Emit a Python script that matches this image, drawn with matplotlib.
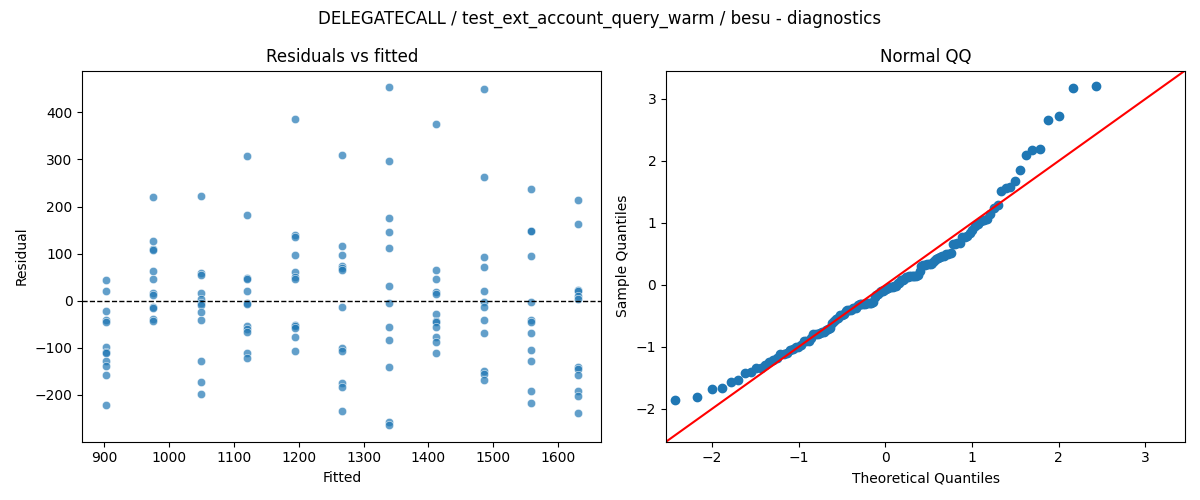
import statistics

import matplotlib
matplotlib.use('Agg')
import matplotlib.pyplot as plt
import numpy as np
import seaborn as sns

# fitted value of each group and the residuals read for it
fitted_levels = [903, 976, 1049, 1121, 1194, 1267, 1339, 1412, 1485, 1558, 1630]
resid_903 = [43, 20, -22, -42, -45, -99, -110, -112, -129, -138, -158, -222]
resid_976 = [220, 126, 110, 108, 63, 47, 17, 11, -14, -16, -40, -44]
resid_1049 = [222, 58, 55, 17, 3, -6, -10, -24, -41, -129, -172, -199]
resid_1121 = [307, 183, 48, 46, 20, -6, -7, -54, -60, -67, -112, -122]
resid_1194 = [385, 139, 135, 96, 61, 50, 45, -52, -54, -58, -78, -108]
resid_1267 = [309, 117, 96, 73, 70, 66, -14, -100, -107, -176, -183, -235]
resid_1339 = [453, 296, 175, 145, 111, 32, -6, -57, -83, -142, -257, -264]
resid_1412 = [375, 66, 47, 19, 14, -29, -43, -45, -57, -77, -88, -112]
resid_1485 = [449, 262, 92, 71, 20, -2, -13, -42, -68, -150, -156, -168]
resid_1558 = [237, 149, 148, 94, -2, -42, -46, -68, -104, -129, -191, -217]
resid_1630 = [214, 162, 22, 20, 10, 3, -141, -146, -158, -191, -202, -238]

groups = [resid_903, resid_976, resid_1049, resid_1121, resid_1194, resid_1267,
          resid_1339, resid_1412, resid_1485, resid_1558, resid_1630]

fitted = []
resid = []
for lvl, g in zip(fitted_levels, groups):
    fitted += [lvl] * len(g)
    resid += g
fitted = np.array(fitted, dtype=float)
resid = np.array(resid, dtype=float)

fig, (ax1, ax2) = plt.subplots(1, 2, figsize=(12, 5), dpi=100)
fig.suptitle('DELEGATECALL / test_ext_account_query_warm / besu - diagnostics')

# ======= Residuals vs fitted ======= #
sns.scatterplot(x=fitted, y=resid, ax=ax1, alpha=0.7)
ax1.axhline(0, color='black', linestyle='--', linewidth=1)
ax1.set_title('Residuals vs fitted')
ax1.set_xlabel('Fitted')
ax1.set_ylabel('Residual')

# ======= Normal QQ ======= #
n = len(resid)
sample_q = np.sort((resid - resid.mean()) / resid.std())
nd = statistics.NormalDist()
theo_q = np.array([nd.inv_cdf(i / (n + 1)) for i in range(1, n + 1)])
ax2.plot(theo_q, sample_q, 'o', color='#1f77b4')
lo, hi = -2.53, max(ax2.get_ylim()[1], ax2.get_xlim()[1])
ax2.plot([lo, hi], [lo, hi], color='red')
ax2.set_xlim(lo, hi)
ax2.set_ylim(lo, hi)
ax2.set_title('Normal QQ')
ax2.set_xlabel('Theoretical Quantiles')
ax2.set_ylabel('Sample Quantiles')

fig.tight_layout()
fig.savefig('out.png', dpi=100)
